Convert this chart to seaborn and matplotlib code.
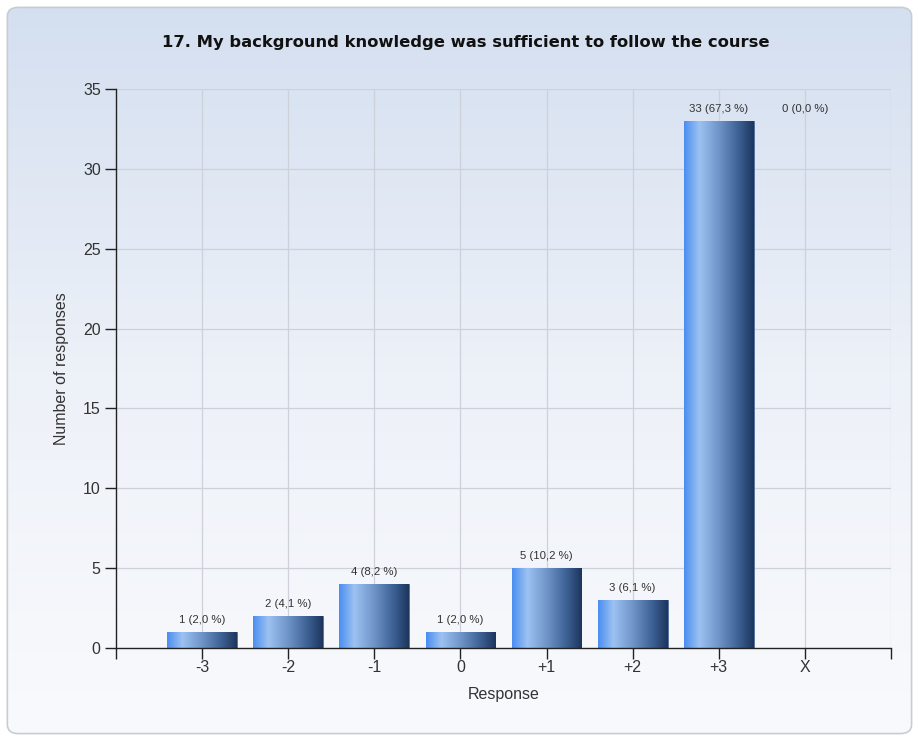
import numpy as np
import pandas as pd
import matplotlib
matplotlib.use("Agg")
import matplotlib.pyplot as plt
import seaborn as sns
from matplotlib.colors import LinearSegmentedColormap
from matplotlib.patches import FancyBboxPatch
from matplotlib import font_manager

categories = ["-3", "-2", "-1", "0", "+1", "+2", "+3", "X"]
counts = [1, 2, 4, 1, 5, 3, 33, 0]
percents = ["2,0", "4,1", "8,2", "2,0", "10,2", "6,1", "67,3", "0,0"]
title = "17. My background knowledge was sufficient to follow the course"

sns.set_theme(style="white")
plt.rcParams["font.family"] = ["Liberation Sans", "DejaVu Sans"]

names = {f.name for f in font_manager.fontManager.ttflist}
if "Liberation Sans Narrow" in names:
    title_family = ["Liberation Sans Narrow", "DejaVu Sans"]
    title_size = 14.5
else:
    title_family = ["DejaVu Sans"]
    title_size = 11.8

fig = plt.figure(figsize=(9.18, 7.38), dpi=100)
fig.patch.set_facecolor("white")

# background card with vertical gradient
bg = fig.add_axes([0, 0, 1, 1], zorder=-10)
bg.set_xlim(0, 1); bg.set_ylim(0, 1); bg.axis("off")
card_grad = LinearSegmentedColormap.from_list("card", ["#f9fafd", "#edf1f8", "#d4dff0"])
g = np.linspace(0, 1, 256).reshape(-1, 1)
card = FancyBboxPatch((0.008, 0.006), 0.985, 0.984, boxstyle="round,pad=0,rounding_size=0.012",
                      transform=bg.transAxes, facecolor="none", edgecolor="#c9ccd2", lw=1.2)
bg.add_patch(card)
im = bg.imshow(g, cmap=card_grad, origin="lower", extent=[0.008, 0.993, 0.006, 0.99],
               aspect="auto", zorder=0)
im.set_clip_path(card)

ax = fig.add_axes([116/918, 90/738, 775/918, 559/738])
ax.patch.set_alpha(0)

df = pd.DataFrame({"Response": categories, "Count": counts})
sns.barplot(data=df, x="Response", y="Count", order=categories, color="#4a7fc8",
            width=0.81, ax=ax, zorder=3, edgecolor="#3a5a88", linewidth=0.5)

ax.set_xlim(-1, 8)
ax.set_ylim(0, 35)
ax.set_yticks(range(0, 36, 5))

bar_cmap = LinearSegmentedColormap.from_list(
    "bar", [(0.0, "#4a8ef0"), (0.22, "#9cc2f2"), (0.5, "#6f94c8"), (0.8, "#3a5d90"), (1.0, "#1c355c")])
hgrad = np.linspace(0, 1, 256).reshape(1, -1)
for p in ax.patches:
    h = p.get_height()
    if h <= 0:
        continue
    x0 = p.get_x(); w = p.get_width()
    bi = ax.imshow(hgrad, cmap=bar_cmap, extent=[x0, x0 + w, 0, h], aspect="auto",
                   zorder=3.5, origin="lower")
    bi.set_clip_path(p)
ax.set_xlim(-1, 8)
ax.set_ylim(0, 35)

ymax = max(counts)
for i, (c, pc) in enumerate(zip(counts, percents)):
    y = c if c > 0 else ymax
    ax.annotate(f"{c} ({pc} %)", (i, y), xytext=(0, 5), textcoords="offset points",
                ha="center", va="bottom", fontsize=8.2, color="#333333", zorder=5)

# grid
for v in range(5, 36, 5):
    ax.axhline(v, color="#ccd1da", lw=0.9, zorder=1)
for i in list(range(len(categories))) + [8]:
    ax.axvline(i, color="#ccd1da", lw=0.9, zorder=1)

for s in ["top", "right"]:
    ax.spines[s].set_visible(False)
for s in ["left", "bottom"]:
    ax.spines[s].set_color("#222222")
    ax.spines[s].set_linewidth(1.0)
    ax.spines[s].set_zorder(6)

ax.tick_params(axis="y", direction="out", length=8, width=1, color="#222222",
               labelsize=11.5, labelcolor="#333333", pad=3, left=True)
ax.tick_params(axis="x", direction="out", length=8, width=1, color="#222222",
               labelsize=11.5, labelcolor="#333333", pad=1, bottom=True)
ax.set_xticks(range(len(categories)))
ax.set_xticklabels(categories)
ax.set_xticks([-1, 8], minor=True)
ax.tick_params(axis="x", which="minor", direction="out", length=8, width=1, color="#222222", bottom=True)

ax.set_xlabel("Response", fontsize=11.5, color="#333333", labelpad=8)
ax.set_ylabel("Number of responses", fontsize=11.5, color="#333333", labelpad=10)

fig.text(0.507, 0.942, title, ha="center", va="center", fontsize=title_size,
         fontweight="bold", color="#111111", family=title_family)

fig.savefig("out.png", dpi=100)
